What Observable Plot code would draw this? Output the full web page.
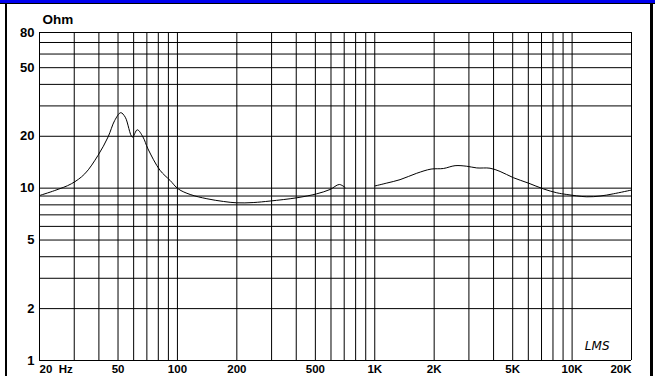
<!DOCTYPE html>
<html>
<head>
<meta charset="utf-8">
<script src="https://cdn.jsdelivr.net/npm/d3@7"></script>
<script src="https://cdn.jsdelivr.net/npm/@observablehq/plot@0.6"></script>
<style>
  html, body { margin: 0; padding: 0; background: #fff; }
  #wrap { position: relative; width: 661px; height: 376px; overflow: hidden; }
  #wrap svg { position: absolute; left: 0; top: 0; }
  .deco { position: absolute; }
</style>
</head>
<body>
<div id="wrap">
  <div class="deco" style="left:0;top:0;width:655px;height:3px;background:#0000ee;"></div>
  <div class="deco" style="left:0;top:3px;width:655px;height:1px;background:#000;"></div>
  <div class="deco" style="left:5px;top:3px;width:2px;height:373px;background:#000;"></div>
  <div class="deco" style="left:650px;top:3px;width:3px;height:373px;background:#000;"></div>
</div>
<script>
// Impedance curve, low band (20 Hz – ~700 Hz)
const lowFreq = [20, 23.9, 29.0, 33.9, 39.6, 44.5, 48.1, 51.6, 54.4, 59.1, 62.6, 66.9, 70.9, 81.6, 91.7, 101, 116, 141, 171, 200, 242, 295, 402, 508, 593, 661, 707];
const lowOhm  = [9.06, 9.69, 10.6, 12.1, 15.5, 19.8, 24.7, 27.4, 25.8, 19.8, 21.8, 19.8, 16.9, 12.7, 11.1, 9.9, 9.19, 8.68, 8.37, 8.22, 8.25, 8.42, 8.79, 9.27, 9.82, 10.5, 10.1];
// Impedance curve, high band (1 kHz – 20 kHz)
const highFreq = [1003, 1150, 1343, 1632, 1928, 2226, 2552, 2926, 3286, 3838, 4315, 5038, 6002, 7150, 8360, 9396, 11864, 13856, 16182, 20000];
const highOhm  = [10.3, 10.7, 11.2, 12.2, 12.9, 13.0, 13.5, 13.4, 13.1, 13.05, 12.5, 11.5, 10.7, 9.9, 9.4, 9.19, 8.91, 9.0, 9.27, 9.75];

// Grid
const xGrid = [20,30,40,50,60,70,80,90,100,200,300,400,500,600,700,800,900,1000,2000,3000,4000,5000,6000,7000,8000,9000,10000,20000];
const yGrid = [1,2,3,4,5,6,7,8,9,10,20,30,40,50,60,70,80];

// Tick labels
const yTickValues = [80, 50, 20, 10, 5, 2, 1];
const yTickLabels = ["80", "50", "20", "10", "5", "2", "1"];
const xTickValues = [20, 50, 100, 200, 500, 1000, 2000, 5000, 10000, 20000];
const xTickLabels = ["20\u00a0\u00a0Hz", "50", "100", "200", "500", "1K", "2K", "5K", "10K", "20K"];
const yUnit = "Ohm";
const brand = "LMS";

const curve = [
  ...lowFreq.map((f, i) => ({f, z: lowOhm[i], seg: "low"})),
  ...highFreq.map((f, i) => ({f, z: highOhm[i], seg: "high"}))
];
const yTicks = yTickValues.map((v, i) => ({v, label: yTickLabels[i]}));
const xTicks = xTickValues.map((v, i) => ({v, label: xTickLabels[i]}));
const font = "'Liberation Sans', Arial, sans-serif";

const chart = Plot.plot({
  width: 661,
  height: 376,
  marginLeft: 39,
  marginRight: 30,
  marginTop: 32,
  marginBottom: 16,
  style: {background: "transparent", fontFamily: font},
  x: {type: "log", domain: [20, 20000], axis: null},
  y: {type: "log", domain: [1, 80], axis: null},
  marks: [
    Plot.ruleX(xGrid, {x: d => d, y1: 1, y2: 80, stroke: "#000", strokeWidth: 1}),
    Plot.ruleY(yGrid, {y: d => d, x1: 20, x2: 20000, stroke: "#000", strokeWidth: 1}),
    Plot.line(curve, {x: "f", y: "z", z: "seg", curve: "catmull-rom", stroke: "#000", strokeWidth: 1}),
    Plot.text(yTicks, {x: 20, y: "v", text: "label", textAnchor: "end", dx: -5, fontWeight: "bold", fontSize: 13, fill: "#000"}),
    Plot.text([yUnit], {x: 20, y: 80, text: d => d, textAnchor: "start", dx: 3, dy: -13, fontWeight: "bold", fontSize: 13.5, fill: "#000"}),
    Plot.text(xTicks.slice(0, 1), {x: "v", y: 1, text: "label", textAnchor: "start", dx: 0, dy: 8.5, fontWeight: "bold", fontSize: 11.5, fill: "#000"}),
    Plot.text(xTicks.slice(1, -1), {x: "v", y: 1, text: "label", textAnchor: "middle", dy: 8.5, fontWeight: "bold", fontSize: 11.5, fill: "#000"}),
    Plot.text(xTicks.slice(-1), {x: "v", y: 1, text: "label", textAnchor: "end", dy: 8.5, fontWeight: "bold", fontSize: 11.5, fill: "#000"}),
    Plot.text([brand], {x: 20000, y: 1, text: d => d, textAnchor: "end", dx: -22, dy: -14, fontStyle: "italic", fontSize: 12, fontFamily: "'DejaVu Sans', sans-serif", fontWeight: "normal", fill: "#000"})
  ]
});
document.getElementById("wrap").prepend(chart);
</script>
</body>
</html>
